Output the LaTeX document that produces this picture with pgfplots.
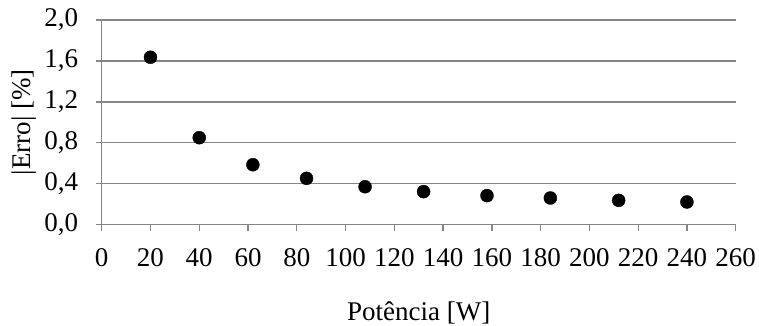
\documentclass[border=0pt]{standalone}
\usepackage{fontspec}
\setmainfont{Liberation Serif}
\usepackage{pgfplots}
\pgfplotsset{compat=1.18}
\definecolor{axgray}{HTML}{868686}
\begin{document}
\begin{tikzpicture}
\path[use as bounding box] (0,0) rectangle (759pt,326pt);
\begin{axis}[
  at={(101.7pt,101.3pt)}, anchor=south west,
  scale only axis, width=634pt, height=204.7pt,
  xmin=0, xmax=260, ymin=0, ymax=2,
  xtick={0,20,...,260}, ytick={0,0.4,...,2.01},
  axis x line=bottom, axis y line=left,
  axis line style={-, axgray, line width=1.3pt},
  every tick/.style={axgray, line width=1.3pt},
  major tick length=6pt, tick align=outside,
  ymajorgrids, grid style={axgray, line width=1.3pt},
  font=\fontsize{27}{32}\selectfont,
  /pgf/number format/assume math mode=true,
  y tick label style={/pgf/number format/fixed, /pgf/number format/fixed zerofill, /pgf/number format/precision=1, /pgf/number format/use comma, xshift=-14pt},
  x tick label style={yshift=-14pt},
  xlabel={Potência [W]},
  ylabel={|Erro| [\%]},
  xlabel style={at={(axis description cs:0.5,-0.469)}, anchor=base},
  ylabel style={at={(axis description cs:-0.1226,0.5)}, anchor=center},
  clip=false,
]
\addplot[only marks, mark=*, mark size=6.5pt, black] coordinates {
(20,1.636) (40,0.850) (62,0.586) (84,0.453) (108,0.371)
(132,0.323) (158,0.284) (184,0.261) (212,0.238) (240,0.222)
};
\end{axis}
\end{tikzpicture}
\end{document}
